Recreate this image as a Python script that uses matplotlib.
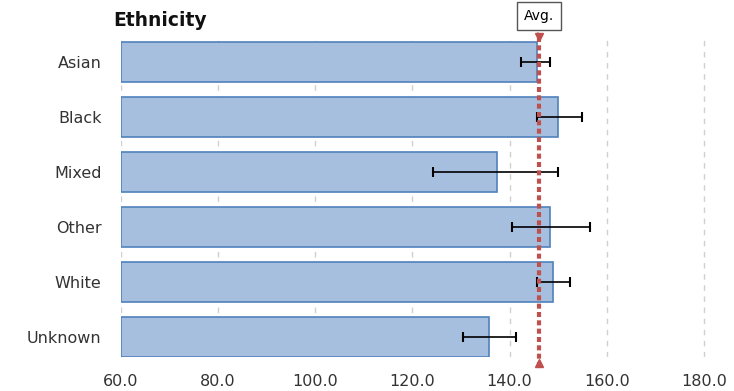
import matplotlib
matplotlib.use("Agg")
import matplotlib.pyplot as plt

categories = ["Asian", "Black", "Mixed", "Other", "White", "Unknown"]
values = [145.6, 150.0, 137.5, 148.4, 148.9, 135.8]
err_low = [142.3, 145.6, 124.3, 140.6, 145.6, 130.5]
err_high = [148.4, 155.0, 150.0, 156.5, 152.4, 141.4]
average = 146.1
xticks = [60, 80, 100, 120, 140, 160, 180]

plt.rcParams["font.family"] = ["DejaVu Sans"]

fig = plt.figure(figsize=(7.34, 3.91), dpi=100)
ax = fig.add_axes([121 / 734, 1 - 357 / 391, 612 / 734, 322 / 391])

pos = list(range(len(categories)))
ax.barh(pos, [v - 60 for v in values], left=60, height=0.72,
        color="#a7bfdf", edgecolor="#4f81bd", linewidth=1.2, zorder=2)

centers = [(lo + hi) / 2 for lo, hi in zip(err_low, err_high)]
halfw = [(hi - lo) / 2 for lo, hi in zip(err_low, err_high)]
ax.errorbar(centers, pos, xerr=halfw, fmt="none", ecolor="black",
            elinewidth=1.2, capsize=3.5, capthick=1.5, zorder=4)

ax.set_xlim(60, 186)
ax.set_ylim(5.36, -0.49)
ax.set_yticks(pos)
ax.set_yticklabels(categories, fontsize=11.5, color="#333333")
ax.set_xticks(xticks)
ax.set_xticklabels([f"{t:.1f}" for t in xticks], fontsize=11.5, color="#333333")
ax.tick_params(length=0, pad=14, axis="y")
ax.tick_params(length=0, pad=12, axis="x")
for s in ax.spines.values():
    s.set_visible(False)
ax.grid(axis="x", color="#d0d0d0", linestyle=(0, (4, 4)), linewidth=1, zorder=0)
ax.set_axisbelow(True)

# average reference line
ax.plot([average, average], [-0.45, 5.47], color="#c0504d", linewidth=3,
        linestyle=(0, (1.2, 0.8)), clip_on=False, zorder=5)
ax.plot([average], [-0.45], marker="v", color="#c0504d", markersize=5.5,
        clip_on=False, zorder=6)
ax.plot([average], [5.47], marker="^", color="#c0504d", markersize=5.5,
        clip_on=False, zorder=6)
ax.annotate("Avg.", xy=(average - 0.3, -0.47), xytext=(average, -0.84),
            textcoords="data", ha="center", va="center", fontsize=10,
            annotation_clip=False,
            bbox=dict(boxstyle="square,pad=0.5", fc="white", ec="#555555", lw=1),
            arrowprops=dict(arrowstyle="-", color="#555555", lw=1))

fig.text(113 / 734, 1 - 20 / 391, "Ethnicity", fontsize=13.5, fontweight="bold",
         ha="left", va="center", color="#111111")

fig.savefig("out.png", dpi=100)
